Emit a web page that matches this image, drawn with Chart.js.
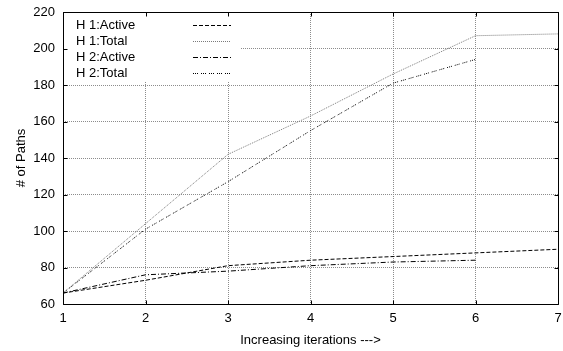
<!DOCTYPE html>
<html>
<head>
<meta charset="utf-8">
<script src="https://cdn.jsdelivr.net/npm/chart.js@4/dist/chart.umd.min.js"></script>
<style>
  html, body { margin: 0; padding: 0; background: #fff; }
  #wrap { width: 563px; height: 351px; position: relative; }
</style>
</head>
<body>
<div id="wrap"><canvas id="c"></canvas></div>
<script>
// Iteration numbers along the x axis
const iterations = [1, 2, 3, 4, 5, 6, 7];
const yTicks = [60, 80, 100, 120, 140, 160, 180, 200, 220];

// Path counts per iteration for each heuristic
const h1Active = [66, 73, 81, 84, 86, 88, 90];
const h1Total  = [66, 104, 142, 163, 186, 207, 208];
const h2Active = [66, 76, 78, 81, 83, 84];
const h2Total  = [66, 101, 127, 155, 181, 194];

const seriesNames = ['H 1:Active', 'H 1:Total', 'H 2:Active', 'H 2:Total'];

const toPoints = vals => vals.map((v, i) => ({ x: iterations[i], y: v }));

const FONT = 'Liberation Sans, Arial, sans-serif';
const FS = 13;

// gnuplot-style key: opaque box at the top-left, label first then line sample
const keyPlugin = {
  id: 'gnuplotKey',
  afterDatasetsDraw(chart) {
    const { ctx, chartArea } = chart;
    const x0 = chartArea.left + 1, y0 = chartArea.top + 1;
    ctx.save();
    ctx.fillStyle = '#fff';
    ctx.fillRect(x0, y0, 176, 68);
    ctx.font = FS + 'px ' + FONT;
    ctx.textBaseline = 'middle';
    chart.data.datasets.forEach((ds, i) => {
      const y = chartArea.top + 12.5 + i * 16.1;
      ctx.fillStyle = '#000';
      ctx.textAlign = 'left';
      ctx.fillText(ds.label, chartArea.left + 13, y + 0.5);
      ctx.strokeStyle = ds.borderColor;
      ctx.lineWidth = 1;
      ctx.setLineDash(ds.borderDash || []);
      ctx.beginPath();
      ctx.moveTo(chartArea.left + 130, Math.round(y) + 0.5);
      ctx.lineTo(chartArea.left + 168, Math.round(y) + 0.5);
      ctx.stroke();
    });
    ctx.restore();
  }
};

// Border box with inward tick marks on all four sides
const framePlugin = {
  id: 'frame',
  afterDraw(chart) {
    const { ctx, chartArea: a, scales } = chart;
    ctx.save();
    ctx.strokeStyle = '#000';
    ctx.lineWidth = 1;
    ctx.setLineDash([]);
    ctx.beginPath();
    const L = Math.round(a.left) + 0.5, R = Math.round(a.right) + 0.5;
    const T = Math.round(a.top) + 0.5, B = Math.round(a.bottom) + 0.5;
    ctx.rect(L, T, R - L, B - T);
    const tl = 4;
    iterations.forEach(v => {
      const px = Math.round(scales.x.getPixelForValue(v)) + 0.5;
      ctx.moveTo(px, B); ctx.lineTo(px, B - tl);
      ctx.moveTo(px, T); ctx.lineTo(px, T + tl);
    });
    yTicks.forEach(v => {
      const py = Math.round(scales.y.getPixelForValue(v)) + 0.5;
      ctx.moveTo(L, py); ctx.lineTo(L + tl, py);
      ctx.moveTo(R, py); ctx.lineTo(R - tl, py);
    });
    ctx.stroke();
    ctx.restore();
  }
};

// Dotted grey grid lines
const grid = { color: '#8c8c8c', lineWidth: 1, drawTicks: false };
const border = { display: false, dash: [1, 1] };

new Chart(document.getElementById('c'), {
  type: 'line',
  data: {
    datasets: [
      { label: seriesNames[0], data: toPoints(h1Active), borderColor: '#000', borderDash: [4, 2] },
      { label: seriesNames[1], data: toPoints(h1Total),  borderColor: '#7a7a7a', borderDash: [1, 1] },
      { label: seriesNames[2], data: toPoints(h2Active), borderColor: '#000', borderDash: [5, 2, 1, 2] },
      { label: seriesNames[3], data: toPoints(h2Total),  borderColor: '#000', borderDash: [1, 1, 1, 1, 1, 3] },
    ].map(d => Object.assign({ borderWidth: 1, pointRadius: 0, tension: 0, fill: false }, d))
  },
  options: {
    responsive: true,
    maintainAspectRatio: false,
    animation: false,
    events: [],
    layout: { padding: { top: 12, right: 5, left: 0, bottom: 0 } },
    plugins: { legend: { display: false }, tooltip: { enabled: false } },
    scales: {
      x: {
        type: 'linear', min: 1, max: 7,
        border: border,
        grid: grid,
        ticks: { stepSize: 1, color: '#000', font: { family: FONT, size: FS }, padding: 7 },
        title: { display: true, text: 'Increasing iterations --->', color: '#000',
                 font: { family: FONT, size: FS }, padding: { top: 1, bottom: 3 } },
        afterFit(s) { s.height = 47; s.paddingLeft = 0; s.paddingRight = 0; }
      },
      y: {
        min: 60, max: 220,
        border: border,
        grid: grid,
        ticks: { stepSize: 20, color: '#000', font: { family: FONT, size: FS }, padding: 8 },
        title: { display: true, text: '# of Paths', color: '#000',
                 font: { family: FONT, size: FS }, padding: { top: 14, bottom: 0 } },
        afterFit(s) { s.width = 63; s.paddingTop = 0; s.paddingBottom = 0; }
      }
    }
  },
  plugins: [keyPlugin, framePlugin]
});
</script>
</body>
</html>
